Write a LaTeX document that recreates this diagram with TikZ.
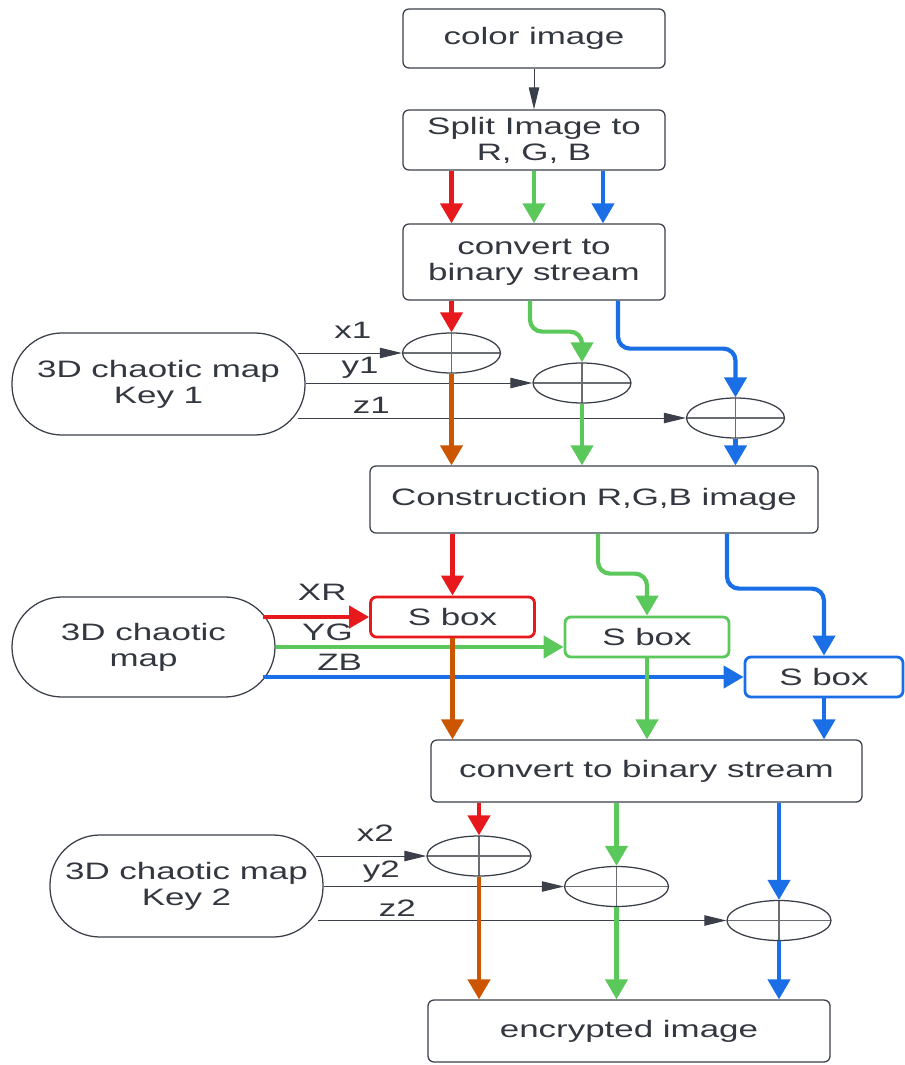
\documentclass[tikz,border=0pt]{standalone}
\usepackage{fontspec}
\setmainfont{Liberation Sans}[FakeStretch=1.47]
\usetikzlibrary{arrows.meta,shapes.geometric}
\definecolor{rgbR}{HTML}{E8191C}
\definecolor{rgbG}{HTML}{5AC85A}
\definecolor{rgbB}{HTML}{1A6FE6}
\definecolor{rgbO}{HTML}{CC5500}
\definecolor{linegray}{HTML}{3A3F4A}
\definecolor{crossgray}{HTML}{6A6D72}
\definecolor{txtgray}{HTML}{33373F}
\begin{document}
\begin{tikzpicture}[>={Triangle[length=0.5cm,width=0.55cm]},
    font=\fontsize{16.9pt}{18.5pt}\selectfont, text=txtgray,
    stage/.style={draw=linegray, line width=0.9pt, rounded corners=0.15cm, align=center, inner sep=0},
    keymap/.style={draw=linegray, line width=0.9pt, rounded corners=1.25cm, align=center, inner sep=0},
    xorop/.style={ellipse, draw=linegray, line width=0.9pt, minimum width=2.45cm, minimum height=1cm, inner sep=0,
        path picture={\draw[crossgray, line width=0.9pt] (path picture bounding box.north) -- (path picture bounding box.south)
            (path picture bounding box.west) -- (path picture bounding box.east);}},
    sbox/.style={draw=#1, line width=2pt, rounded corners=0.15cm, minimum width=4.1cm, minimum height=1cm, inner sep=0},
    wire/.style={draw=#1, line width=3pt, ->},
    ctl/.style={draw=linegray, line width=0.7pt, ->, >={Triangle[length=0.55cm,width=0.26cm]}},
    lbl/.style={inner sep=0, text=txtgray}]
\useasboundingbox (0,0) rectangle (22.6,-26.625);

\node[stage, minimum width=6.55cm, minimum height=1.475cm] (img) at (13.35,-0.9625) {color image};
\node[stage, minimum width=6.55cm, minimum height=1.5cm] (split) at (13.35,-3.5) {Split Image to\\R, G, B};
\node[stage, minimum width=6.55cm, minimum height=1.9cm] (conv1) at (13.35,-6.55) {convert to\\binary stream};
\node[keymap, minimum width=7.325cm, minimum height=2.55cm] (key1) at (3.9625,-9.6) {3D chaotic map\\Key 1};
\node[xorop] (xr1) at (11.2875,-8.825) {};
\node[xorop] (xg1) at (14.55,-9.575) {};
\node[xorop] (xb1) at (18.3875,-10.45) {};
\node[stage, minimum width=11.2cm, minimum height=1.675cm] (cons) at (14.85,-12.4875) {Construction R,G,B image};
\node[keymap, minimum width=6.575cm, minimum height=2.5cm] (map) at (3.5875,-16.175) {3D chaotic\\map};
\node[sbox=rgbR] (sr) at (11.3125,-15.425) {S box};
\node[sbox=rgbG] (sg) at (16.175,-15.925) {S box};
\node[sbox=rgbB, minimum width=3.95cm] (sb) at (20.6,-16.925) {S box};
\node[stage, minimum width=10.775cm, minimum height=1.55cm] (conv2) at (16.1625,-19.275) {convert to binary stream};
\node[keymap, minimum width=6.825cm, minimum height=2.55cm] (key2) at (4.6625,-22.15) {3D chaotic map\\Key 2};
\node[xorop, minimum width=2.6cm] (xr2) at (11.975,-21.4) {};
\node[xorop, minimum width=2.6cm] (xg2) at (15.4125,-22.1625) {};
\node[xorop, minimum width=2.6cm] (xb2) at (19.475,-23.0125) {};
\node[stage, minimum width=10.05cm, minimum height=1.55cm] (enc) at (15.725,-25.775) {encrypted image};

\draw[ctl] (img) -- (split);
\draw[wire=rgbR] (split.south -| xr1) -- (conv1.north -| xr1);
\draw[wire=rgbG] (split) -- (conv1);
\draw[wire=rgbB] ([xshift=1.725cm]split.south) -- ([xshift=1.725cm]conv1.north);

\draw[wire=rgbR] (conv1.south -| xr1) -- (xr1);
\draw[wire=rgbG, rounded corners=0.3cm] ([xshift=-0.1cm]conv1.south) -- ++(0,-0.775) -| (xg1.north);
\draw[wire=rgbB, rounded corners=0.3cm] ([xshift=2.1cm]conv1.south) -- ++(0,-1.2) -| (xb1.north);
\draw[ctl] ([xshift=-0.2cm]key1.east |- xr1) -- (xr1.west) node[lbl, pos=0.53, above=0.35cm] {x1};
\draw[ctl] (key1.east |- xg1) -- (xg1.west) node[lbl, pos=0.24, above=0.1cm] {y1};
\draw[ctl] ([xshift=-0.2cm]key1.east |- xb1) -- (xb1.west) node[lbl, pos=0.19, above=0.1cm] {z1};
\draw[wire=rgbO] (xr1) -- (xr1 |- cons.north);
\draw[wire=rgbG] (xg1) -- (xg1 |- cons.north);
\draw[wire=rgbB] (xb1) -- (xb1 |- cons.north);

\draw[wire=rgbR] (sr |- cons.south) -- (sr);
\draw[wire=rgbG, rounded corners=0.3cm] ([xshift=0.1cm]cons.south) -- ++(0,-1) -| (sg.north);
\draw[wire=rgbB, rounded corners=0.3cm] ([xshift=3.325cm]cons.south) -- ++(0,-1.375) -| (sb.north);
\draw[wire=rgbR] ([xshift=-0.325cm]map.east |- sr) -- (sr.west) node[lbl, pos=0.56, above=0.35cm] {XR};
\draw[wire=rgbG] (map.east) -- (map.east -| sg.west) node[lbl, pos=0.18, above=0.1cm] {YG};
\draw[wire=rgbB] ([xshift=-0.325cm]map.east |- sb) -- (sb.west) node[lbl, pos=0.16, above=0.1cm] {ZB};
\draw[wire=rgbO] (sr) -- (sr |- conv2.north);
\draw[wire=rgbG] (sg) -- (sg |- conv2.north);
\draw[wire=rgbB] (sb) -- (sb |- conv2.north);

\draw[wire=rgbR] (xr2 |- conv2.south) -- (xr2);
\draw[wire=rgbG] (xg2 |- conv2.south) -- (xg2);
\draw[wire=rgbB] (xb2 |- conv2.south) -- (xb2);
\draw[ctl] ([xshift=-0.2cm]key2.east |- xr2) -- (xr2.west) node[lbl, pos=0.54, above=0.35cm] {x2};
\draw[ctl] (key2.east |- xg2) -- (xg2.west) node[lbl, pos=0.24, above=0.1cm] {y2};
\draw[ctl] ([xshift=-0.15cm]key2.east |- xb2) -- (xb2.west) node[lbl, pos=0.195, above=0.1cm] {z2};
\draw[wire=rgbO] (xr2) -- (xr2 |- enc.north);
\draw[wire=rgbG] (xg2) -- (xg2 |- enc.north);
\draw[wire=rgbB] (xb2) -- (xb2 |- enc.north);
\end{tikzpicture}
\end{document}
